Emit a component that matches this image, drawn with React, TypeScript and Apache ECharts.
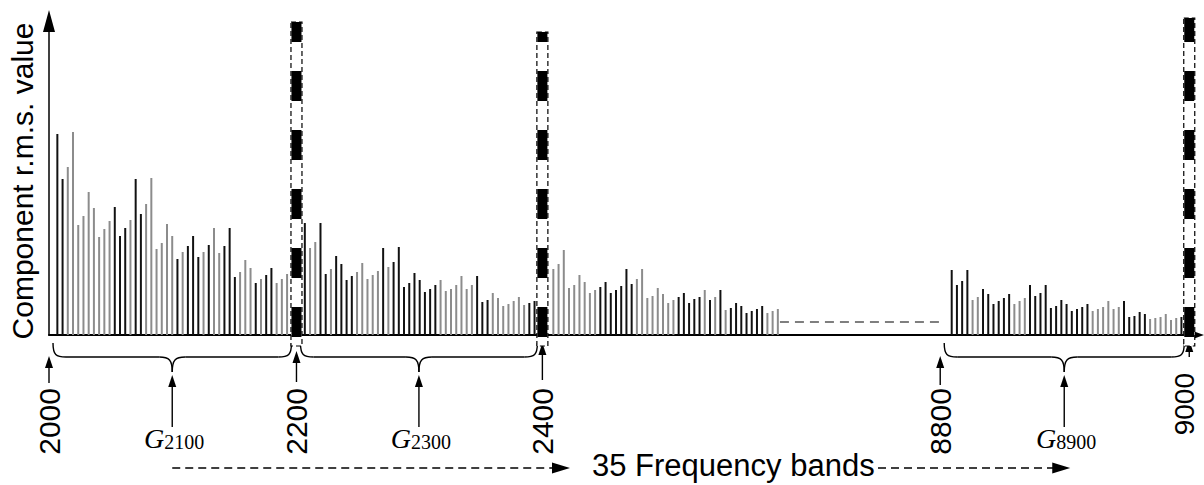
import React, { useEffect, useRef } from 'react';
import * as echarts from 'echarts';

// ---- data (bar heights in arbitrary r.m.s. units) ----
const seg1Values = [201, 156, 168, 203, 110, 119, 143, 127, 98, 106, 114, 128, 99, 107, 115, 156, 121, 131, 157, 86, 92, 111, 99, 76, 83, 89, 99, 78, 83, 90, 107, 82, 89, 107, 58, 63, 75, 67, 52, 56, 60, 67, 52, 56, 61];
const seg2Values = [112, 87, 93, 112, 61, 66, 79, 71, 55, 59, 63, 72, 56, 60, 64, 87, 68, 73, 88, 48, 52, 62, 55, 43, 46, 50, 55, 44, 46, 50, 59, 46, 50, 59, 33, 35, 42, 37, 29, 31, 34, 38, 30, 32, 34];
const seg3Values = [66, 71, 85, 47, 50, 60, 53, 42, 45, 48, 53, 42, 45, 49, 66, 51, 56, 66, 37, 39, 47, 41, 32, 35, 38, 42, 32, 36, 38, 45, 35, 38, 45, 25, 27, 32, 29, 22, 24, 26, 29, 22, 24, 26];
const seg4Values = [65, 50, 54, 65, 35, 38, 46, 41, 31, 34, 37, 41, 31, 34, 37, 50, 39, 42, 50, 27, 29, 35, 31, 24, 26, 28, 31, 24, 26, 28, 34, 26, 28, 34, 18, 19, 23, 21, 16, 17, 18, 21, 15, 17, 18];
// B = black line, G = grey line
const seg1Shades = 'BBGGGGGGGGGBBBGBBGGGGGGBGBBBGBGGBBBGGGBGBBGGG';
const seg2Shades = 'BGGBBGBBBBGGGGGBGBBBBBBBBBGGGGGGGBBBGGGGGGGBB';
const seg3Shades = 'GGGGGGGGGBBBBBBBGGGGGGGGBBBBBGBGBGBBBBBBBGGG';
const seg4Shades = 'BBBBGGBBBBBBGGGBBBBBBBBBBBBGGGGGGBBBBBGGGGGGB';

const edgeLabels = ['2000', '2200', '2400', '8800', '9000'];
const groupLabels = ['2100', '2300', '8900'];
const dashedEdgeValues = [313, 303, 317]; // at 2200, 2400, 9000
const gapLevel = 13;
const bandsText = '35 Frequency bands';
const yTitle = 'Component r.m.s. value';

// ---- layout (slot units along the broken frequency axis) ----
const SEG_STARTS = [1.6, 49.0, 96.6, 172.9];
const EDGE_SLOTS = [0, 47.4, 94.5, 170.7, 218.4];
const DASHED_EDGES = [1, 2, 4];
const GROUP_EDGES = [[0, 1], [1, 2], [3, 4]];
const GAP_RANGE = [140, 170.7];
const X_MAX = 219.5;
const Y_MAX = 320;

const BLACK = '#111111';
const GRAY = '#8c8c8c';
const SANS = '"Liberation Sans", Arial, Helvetica, sans-serif';
const SERIF = '"Liberation Serif", "Times New Roman", serif';

export default function App() {
  const ref = useRef<HTMLDivElement>(null);

  useEffect(() => {
    if (!ref.current) return;
    const chart = echarts.init(ref.current, undefined, { renderer: 'svg' });

    const segs: [number[], string][] = [
      [seg1Values, seg1Shades],
      [seg2Values, seg2Shades],
      [seg3Values, seg3Shades],
      [seg4Values, seg4Shades],
    ];
    const barData: any[] = [];
    segs.forEach(([vals, shades], s) => {
      vals.forEach((v, i) => {
        barData.push({
          value: [SEG_STARTS[s] + i, v],
          itemStyle: { color: shades[i] === 'G' ? GRAY : BLACK },
        });
      });
    });

    const dashedData = DASHED_EDGES.map((e, k) => [EDGE_SLOTS[e], dashedEdgeValues[k]]);

    const option: any = {
      animation: false,
      grid: { left: 49, right: 9, top: 15, bottom: 150, containLabel: false, outerBoundsMode: 'none' },
      xAxis: {
        type: 'value',
        min: 0,
        max: X_MAX,
        axisLine: {
          show: true,
          onZero: false,
          lineStyle: { color: '#000', width: 2 },
          symbol: ['none', 'triangle'],
          symbolSize: [10, 14],
          symbolOffset: [0, 2],
        },
        axisTick: { show: false },
        splitLine: { show: false },
        axisLabel: {
          show: true,
          customValues: EDGE_SLOTS,
          rotate: 90,
          margin: 38,
          color: '#000',
          fontSize: 30,
          fontFamily: SANS,
          formatter: (v: number) => {
            const idx = EDGE_SLOTS.findIndex((s) => Math.abs(s - v) < 0.01);
            if (idx < 0) return '';
            return idx === 4 ? `{near|${edgeLabels[idx]}}` : `{far|${edgeLabels[idx]}}`;
          },
          rich: {
            far: { fontSize: 30, lineHeight: 24, fontFamily: SANS, color: '#000', padding: [0, 15, 0, 0] },
            near: { fontSize: 28, lineHeight: 24, fontFamily: SANS, color: '#000', padding: [0, 0, 10, 0] },
          },
        },
      },
      yAxis: {
        type: 'value',
        min: 0,
        max: Y_MAX,
        name: yTitle,
        nameLocation: 'middle',
        nameGap: 12,
        nameRotate: 90,
        nameTextStyle: { fontSize: 30, fontFamily: SANS, color: '#000', padding: [0, 12, 0, 0] },
        axisLine: {
          show: true,
          lineStyle: { color: '#000', width: 1.5 },
          symbol: ['none', 'triangle'],
          symbolSize: [12, 22],
          symbolOffset: [0, -6],
        },
        axisTick: { show: false },
        axisLabel: { show: false },
        splitLine: { show: false },
      },
      series: [
        {
          type: 'bar',
          name: 'components',
          barWidth: 2,
          data: barData,
          silent: true,
        },
        {
          type: 'line',
          name: 'gap',
          data: [[GAP_RANGE[0], gapLevel], [GAP_RANGE[1], gapLevel]],
          symbol: 'none',
          lineStyle: { color: '#555', width: 1.5, type: [9, 6] },
          silent: true,
        },
        {
          type: 'custom',
          name: 'edges',
          data: dashedData,
          silent: true,
          clip: false,
          renderItem: (params: any, api: any) => {
            const x = api.value(0);
            const h = api.value(1);
            const topPt = api.coord([x, h]);
            const basePt = api.coord([x, 0]);
            const cx = topPt[0];
            const top = topPt[1];
            const base = basePt[1];
            const w = 11;
            const period = 59;
            const blk = 30;
            const children: any[] = [
              {
                type: 'rect',
                shape: { x: cx - w / 2, y: top, width: w, height: base + 11 - top },
                style: { fill: '#fff', stroke: '#000', lineWidth: 1.2, lineDash: [5, 3] },
              },
            ];
            for (let y = base + 2; y > top; y -= period) {
              const y0 = Math.max(top, y - blk);
              children.push({
                type: 'rect',
                shape: { x: cx - 5, y: y0, width: 10, height: y - y0 },
                style: { fill: '#000' },
              });
            }
            return { type: 'group', children };
          },
        },
      ],
    };

    chart.setOption(option);

    // ---- annotations placed from the axis scale ----
    const px = (slot: number) => chart.convertToPixel({ xAxisIndex: 0 }, slot) as number;
    const baseY = chart.convertToPixel({ yAxisIndex: 0 }, 0) as number;
    const edgesPx = EDGE_SLOTS.map(px);
    const g: any[] = [];
    const stroke = { stroke: '#000', lineWidth: 1.4, fill: 'none' };

    const upArrow = (x: number, tipY: number, baseYY: number) => {
      g.push({ type: 'line', shape: { x1: x, y1: baseYY, x2: x, y2: tipY + 10 }, style: { stroke: '#000', lineWidth: 1.4 } });
      g.push({ type: 'polygon', shape: { points: [[x, tipY], [x - 4, tipY + 12], [x + 4, tipY + 12]] }, style: { fill: '#000' } });
    };

    // edge arrows
    const tipOff = [21, 16, 8, 21, 5];
    const baseOff = [48, 47, 45, 50, 22];
    edgesPx.forEach((x, i) => upArrow(x, baseY + tipOff[i], baseY + baseOff[i]));

    // braces + group labels
    const mids: number[] = [];
    GROUP_EDGES.forEach(([a, b], k) => {
      const xa = edgesPx[a] + 4;
      const xb = edgesPx[b] - 5;
      const mid = (xa + xb) / 2;
      mids.push(mid);
      const top = baseY + 8;
      const hy = baseY + 22;
      const tip = baseY + 37;
      g.push({ type: 'bezierCurve', shape: { x1: xa, y1: top, cpx1: xa, cpy1: hy - 2, cpx2: xa + 3, cpy2: hy, x2: xa + 13, y2: hy }, style: stroke });
      g.push({ type: 'line', shape: { x1: xa + 13, y1: hy, x2: mid - 13, y2: hy }, style: stroke });
      g.push({ type: 'bezierCurve', shape: { x1: mid - 13, y1: hy, cpx1: mid - 3, cpy1: hy, cpx2: mid, cpy2: hy + 3, x2: mid, y2: tip }, style: stroke });
      g.push({ type: 'bezierCurve', shape: { x1: mid + 13, y1: hy, cpx1: mid + 3, cpy1: hy, cpx2: mid, cpy2: hy + 3, x2: mid, y2: tip }, style: stroke });
      g.push({ type: 'line', shape: { x1: mid + 13, y1: hy, x2: xb - 13, y2: hy }, style: stroke });
      g.push({ type: 'bezierCurve', shape: { x1: xb - 13, y1: hy, cpx1: xb - 3, cpy1: hy, cpx2: xb, cpy2: hy - 2, x2: xb, y2: top }, style: stroke });
      upArrow(mid, tip + 3, baseY + 92);
      g.push({ type: 'text', x: mid - 8, y: baseY + 103, style: { text: 'G', font: `italic 28px ${SERIF}`, fill: '#000', align: 'right', verticalAlign: 'middle' } });
      g.push({ type: 'text', x: mid - 8, y: baseY + 107, style: { text: groupLabels[k], font: `20px ${SERIF}`, fill: '#000', align: 'left', verticalAlign: 'middle' } });
    });

    // 35 Frequency bands
    const ay = baseY + 133;
    const leftEnd = 570;
    const rightStart = 878;
    const rightEnd = mids[2] + 6;
    g.push({ type: 'line', shape: { x1: mids[0], y1: ay, x2: leftEnd - 16, y2: ay }, style: { stroke: '#000', lineWidth: 1.6, lineDash: [8, 5] } });
    g.push({ type: 'polygon', shape: { points: [[leftEnd, ay], [leftEnd - 18, ay - 5.5], [leftEnd - 18, ay + 5.5]] }, style: { fill: '#000' } });
    g.push({ type: 'text', x: 592, y: ay - 3, style: { text: bandsText, font: `31px ${SANS}`, fill: '#000', align: 'left', verticalAlign: 'middle' } });
    g.push({ type: 'line', shape: { x1: rightStart, y1: ay, x2: rightEnd - 16, y2: ay }, style: { stroke: '#000', lineWidth: 1.6, lineDash: [8, 5] } });
    g.push({ type: 'polygon', shape: { points: [[rightEnd, ay], [rightEnd - 18, ay - 5.5], [rightEnd - 18, ay + 5.5]] }, style: { fill: '#000' } });

    chart.setOption({ graphic: { elements: g } });

    return () => chart.dispose();
  }, []);

  return (
    <div
      ref={ref}
      style={{ position: 'fixed', left: 0, top: 0, width: 1204, height: 485, background: '#fff' }}
    />
  );
}
